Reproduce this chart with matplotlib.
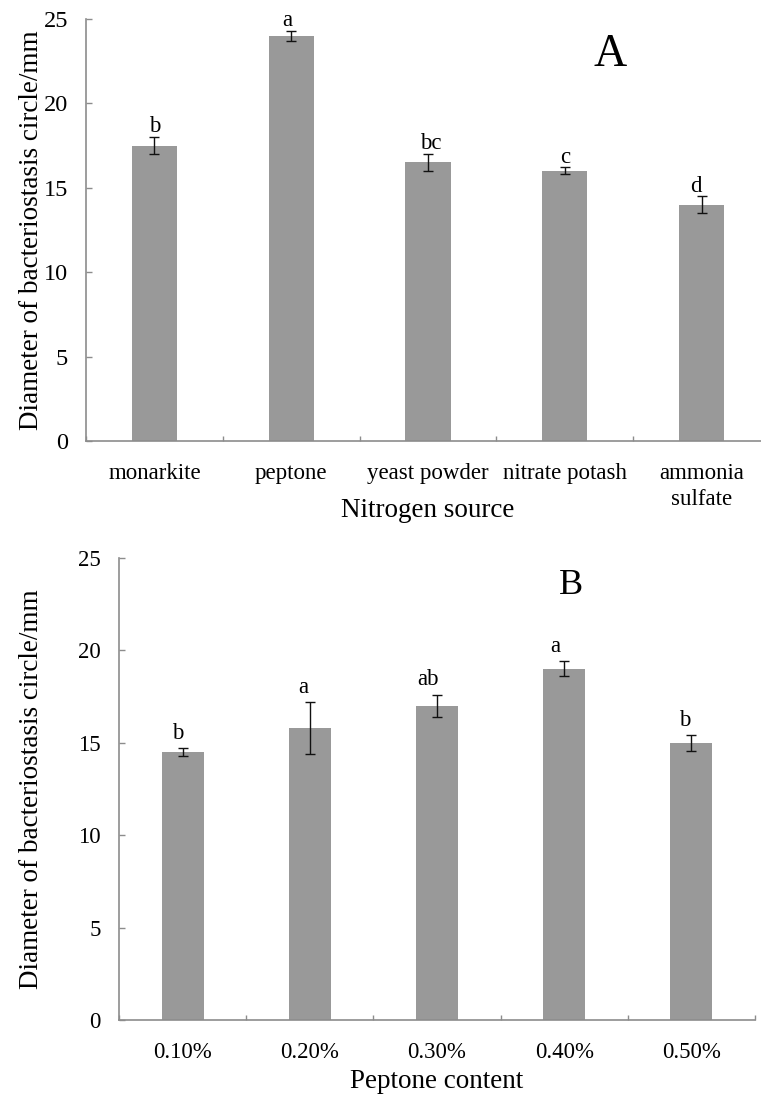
import numpy as np
import matplotlib
matplotlib.use("Agg")
import matplotlib.pyplot as plt

plt.rcParams['font.family'] = ['Liberation Serif', 'DejaVu Serif']

# panel A: nitrogen source
sources = ["monarkite", "peptone", "yeast powder", "nitrate potash", "ammonia\nsulfate"]
diam_a = [17.5, 24.0, 16.5, 16.0, 14.0]
err_a = [0.5, 0.3, 0.5, 0.2, 0.5]
letters_a = ["b", "a", "bc", "c", "d"]

# panel B: peptone content
contents = ["0.10%", "0.20%", "0.30%", "0.40%", "0.50%"]
diam_b = [14.5, 15.8, 17.0, 19.0, 15.0]
err_b = [0.22, 1.4, 0.6, 0.4, 0.42]
letters_b = ["b", "a", "ab", "a", "b"]

ylabel = "Diameter of bacteriostasis circle/mm"
bar_color = "#999999"
spine_color = "#8c8c8c"


def draw_panel(ax, cats, vals, errs, letters, xlabel, tag, tag_xy, tag_size,
               ytick_size, letter_dx, letter_dy, xlabel_y, ylabel_x):
    x = np.arange(len(cats))
    ax.bar(x, vals, width=0.33, color=bar_color, zorder=2)
    ax.errorbar(x, vals, yerr=errs, fmt="none", ecolor="#111111",
                elinewidth=1.0, capsize=3.5, capthick=1.0, zorder=3)
    for i in range(len(cats)):
        ax.text(x[i] + letter_dx[i], vals[i] + errs[i] + letter_dy, letters[i],
                ha="center", va="center", fontsize=16.5)
    ax.text(tag_xy[0], tag_xy[1], tag, ha="center", va="center", fontsize=tag_size)

    ax.set_xlim(-0.5, len(cats) - 0.5)
    ax.set_ylim(0, 25)
    ax.set_yticks(np.arange(0, 26, 5))
    ax.set_xticks(x)
    ax.set_xticklabels(cats, fontsize=16.5, linespacing=1.3)
    ax.set_xticks(np.arange(-0.5, len(cats), 1), minor=True)
    ax.tick_params(axis="x", which="major", length=0, pad=16)
    ax.tick_params(axis="x", which="minor", direction="in", length=3.5,
                   width=1.0, color=spine_color)
    ax.tick_params(axis="y", direction="in", length=4.5, width=1.0,
                   color=spine_color, labelsize=ytick_size, pad=13)

    for s in ["top", "right"]:
        ax.spines[s].set_visible(False)
    for s in ["left", "bottom"]:
        ax.spines[s].set_color(spine_color)
        ax.spines[s].set_linewidth(1.2)

    ax.set_xlabel(xlabel, fontsize=19.5)
    ax.xaxis.set_label_coords(0.5, xlabel_y)
    ax.set_ylabel(ylabel, fontsize=19.5)
    ax.yaxis.set_label_coords(ylabel_x, 0.5)


fig = plt.figure(figsize=(7.61, 10.95), dpi=100)

ax_a = fig.add_axes([0.113, 0.5973, 0.899, 0.3854])
draw_panel(ax_a, sources, diam_a, err_a, letters_a, "Nitrogen source",
           "A", (3.33, 22.9), 33, 17.5,
           [0, -0.03, 0.02, 0, -0.04], 0.6, -0.135, -0.062)

ax_b = fig.add_axes([0.1564, 0.0685, 0.8357, 0.4219])
draw_panel(ax_b, contents, diam_b, err_b, letters_b, "Peptone content",
           "B", (3.05, 23.5), 26, 16.5,
           [-0.04, -0.05, -0.07, -0.07, -0.05], 0.8, -0.105, -0.118)

fig.savefig("out.png", dpi=100)
